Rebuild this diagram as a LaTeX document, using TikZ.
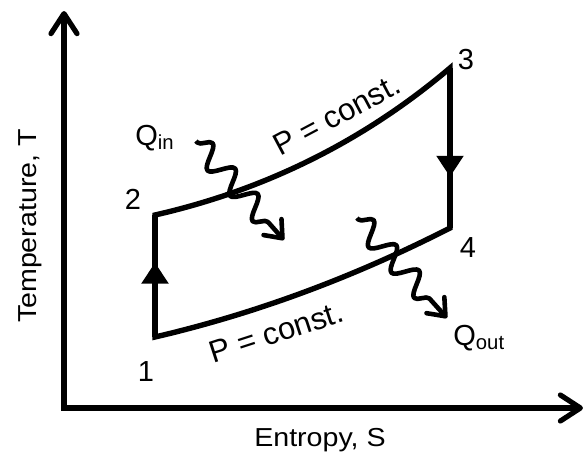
\documentclass[tikz,border=0pt]{standalone}
\usepackage{fontspec}
\setmainfont{Liberation Sans}
\newfontfamily\axisfont{Liberation Sans}[FakeStretch=1.1]
\usetikzlibrary{arrows.meta, decorations.pathmorphing, decorations.markings}
\tikzset{
  axisline/.style={
    line width=2.6pt, -{Straight Barb[round, length=10pt, width=13pt]}
  },
  process/.style={line width=2.7pt, line join=miter},
  upmark/.style={
    line width=2.7pt,
    postaction={decorate, decoration={markings,
      mark=at position 0.61 with {\arrow{Triangle[length=10.5pt, width=13pt]}}}}
  },
  downmark/.style={
    line width=2.7pt,
    postaction={decorate, decoration={markings,
      mark=at position 0.68 with {\arrow{Triangle[length=10.5pt, width=13pt]}}}}
  },
  heatflow/.style={
    line width=2.3pt, line join=round,
    decorate, decoration={snake, amplitude=5.5pt, segment length=17pt, pre length=1pt, post length=7pt},
    -{Straight Barb[round, length=7.5pt, width=12pt]}
  },
  statelabel/.style={font=\fontsize{14.5}{16}\selectfont, inner sep=0pt},
  curvelabel/.style={font=\fontsize{15.5}{17}\selectfont, inner sep=0pt, anchor=base west},
  axislabel/.style={font=\axisfont\fontsize{13}{15}\selectfont, inner sep=0pt},
}

\begin{document}
\begin{tikzpicture}[x=0.5pt, y=-0.5pt]
    \useasboundingbox (0,0) rectangle (586,462);

    %% Axes
    \coordinate (origin) at (64,408);
    \coordinate (ttop) at (64,11);
    \coordinate (sright) at (583,408);
    \draw[axisline] (origin) -- (ttop);
    \draw[axisline] ([xshift=-1.3pt]origin) -- (sright);

    \node[axislabel] (sname) at (320,440) {Entropy, S};
    \node[axislabel, rotate=90] (tname) at (30,226) {Temperature, T};

    %% States
    \coordinate (p1) at (155,337);
    \coordinate (p2) at (155,215);
    \coordinate (p3) at (450,68);
    \coordinate (p4) at (450,228);

    \node[statelabel] (l1) at (146,372) {1};
    \node[statelabel] (l2) at (133,199) {2};
    \node[statelabel] (l3) at (466,60) {3};
    \node[statelabel] (l4) at (468,248) {4};

    %% Cycle
    \draw[process] (p2) .. controls (265,190) and (364,141) .. (p3)
      -- (p4) .. controls (356,276) and (258,313) .. (p1) -- cycle;
    \draw[upmark] (p1) -- (p2);
    \draw[downmark] (p3) -- (p4);

    \node[curvelabel, rotate=28] (phigh) at (280,157) {P = const.};
    \node[curvelabel, rotate=18] (plow) at (213,364) {P = const.};

    %% Heat in and out
    \coordinate (qinstart) at (196,141);
    \coordinate (qinend) at (284,240);
    \coordinate (qoutstart) at (357,218);
    \coordinate (qoutend) at (447,318);
    \draw[heatflow] (qinstart) -- (qinend);
    \draw[heatflow] (qoutstart) -- (qoutend);

    \node[statelabel, anchor=base west] (qin) at (135,145) {Q\textsubscript{in}};
    \node[statelabel, anchor=base west] (qout) at (453,345) {Q\textsubscript{out}};

  \end{tikzpicture}
\end{document}
